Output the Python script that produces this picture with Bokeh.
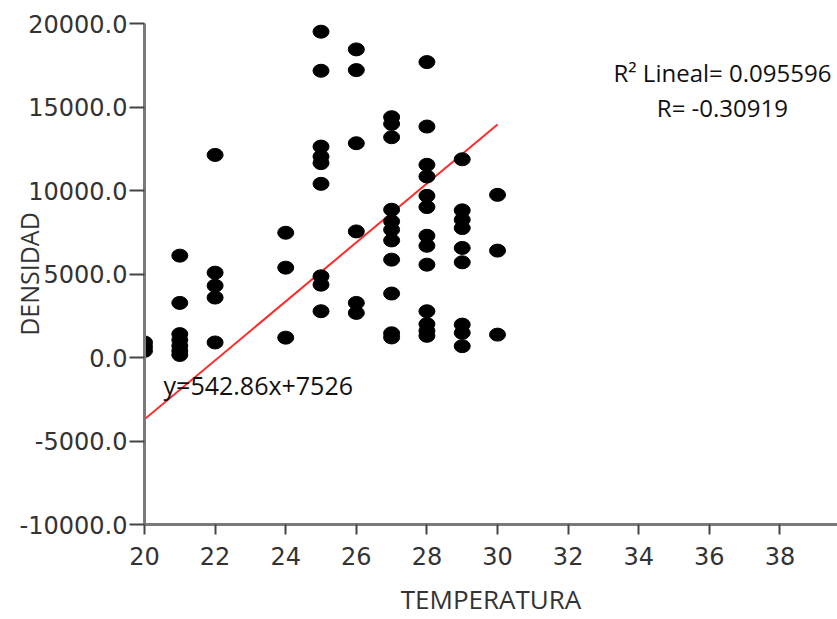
from bokeh.plotting import figure
from bokeh.models import Label, FixedTicker, CustomJSTickFormatter, Range1d
from bokeh.embed import file_html
from bokeh.resources import INLINE

# Data (TEMPERATURA vs DENSIDAD)
temp_20 = [900, 650, 400]
temp_21 = [6100, 3270, 1400, 1050, 700, 400, 150]
temp_22 = [12130, 5080, 4300, 3590, 900]
temp_24 = [7470, 5380, 1190]
temp_25 = [19510, 17170, 12630, 12030, 11640, 10400, 4860, 4360, 2770]
temp_26 = [18450, 17210, 12830, 7550, 3270, 2670]
temp_27 = [14390, 13990, 13190, 8850, 8150, 7650, 7010, 5860, 3830, 1450, 1200]
temp_28 = [17690, 13830, 11540, 10840, 9680, 9010, 7290, 6690, 5560, 2770, 2000, 1600, 1300]
temp_29 = [11870, 8810, 8250, 7750, 6560, 5700, 1970, 1480, 680]
temp_30 = [9740, 6400, 1370]

groups = {20: temp_20, 21: temp_21, 22: temp_22, 24: temp_24, 25: temp_25,
          26: temp_26, 27: temp_27, 28: temp_28, 29: temp_29, 30: temp_30}

fit_x = [20, 30]
fit_y = [-3700, 13950]

x_ticks = [20, 22, 24, 26, 28, 30, 32, 34, 36, 38]
y_ticks = [-10000, -5000, 0, 5000, 10000, 15000, 20000]

xs, ys = [], []
for t, vals in groups.items():
    xs += [t] * len(vals)
    ys += vals

p = figure(width=837, height=619, output_backend="svg", toolbar_location=None,
           x_range=Range1d(20, 39.63), y_range=Range1d(-10000, 20000),
           min_border_left=144, min_border_top=23, min_border_bottom=94, min_border_right=0)
p.outline_line_color = None
p.grid.visible = False
p.background_fill_color = "white"
p.border_fill_color = "white"

p.line(fit_x, fit_y, line_color="#ff2a2a", line_width=2)
p.ellipse(xs, ys, width=16, height=13, width_units="screen", height_units="screen",
          fill_color="black", line_color="black")

for ax in (p.xaxis[0], p.yaxis[0]):
    ax.axis_line_color = "#7a7a7a"
    ax.axis_line_width = 3
    ax.major_tick_line_color = "#444444"
    ax.major_tick_line_width = 2
    ax.major_tick_in = 0
    ax.minor_tick_line_color = None
    ax.major_label_text_font = "DejaVu Sans"
    ax.major_label_text_font_size = "24px"
    ax.major_label_text_color = "#333333"
    ax.axis_label_text_font = "Open Sans"
    ax.axis_label_text_font_style = "normal"
    ax.axis_label_text_color = "#333333"

p.xaxis.ticker = FixedTicker(ticks=x_ticks)
p.yaxis.ticker = FixedTicker(ticks=y_ticks)
p.yaxis.formatter = CustomJSTickFormatter(code="return tick.toFixed(1);")
p.xaxis.major_tick_out = 10
p.yaxis.major_tick_out = 15
p.xaxis.major_label_standoff = 12
p.yaxis.major_label_standoff = 2

p.xaxis.axis_label = "TEMPERATURA"
p.xaxis.axis_label_text_font_size = "26px"
p.xaxis.axis_label_standoff = 13
p.yaxis.axis_label = "DENSIDAD"
p.yaxis.axis_label_text_font_size = "25px"
p.yaxis.axis_label_standoff = -29

p.add_layout(Label(x=20.54, y=-1650, text="y=542.86x+7526", text_font="Open Sans",
                   text_font_size="25px", text_baseline="middle", text_color="#111111"))
p.add_layout(Label(x=36.37, y=17095, text="R\u00b2 Lineal= 0.095596", text_font="Open Sans",
                   text_font_size="24px", text_align="center", text_baseline="middle",
                   text_color="#111111"))
p.add_layout(Label(x=36.37, y=14943, text="R= -0.30919", text_font="Open Sans",
                   text_font_size="24px", text_align="center", text_baseline="middle",
                   text_color="#111111"))

open("out.html", "w").write(file_html(p, INLINE))
